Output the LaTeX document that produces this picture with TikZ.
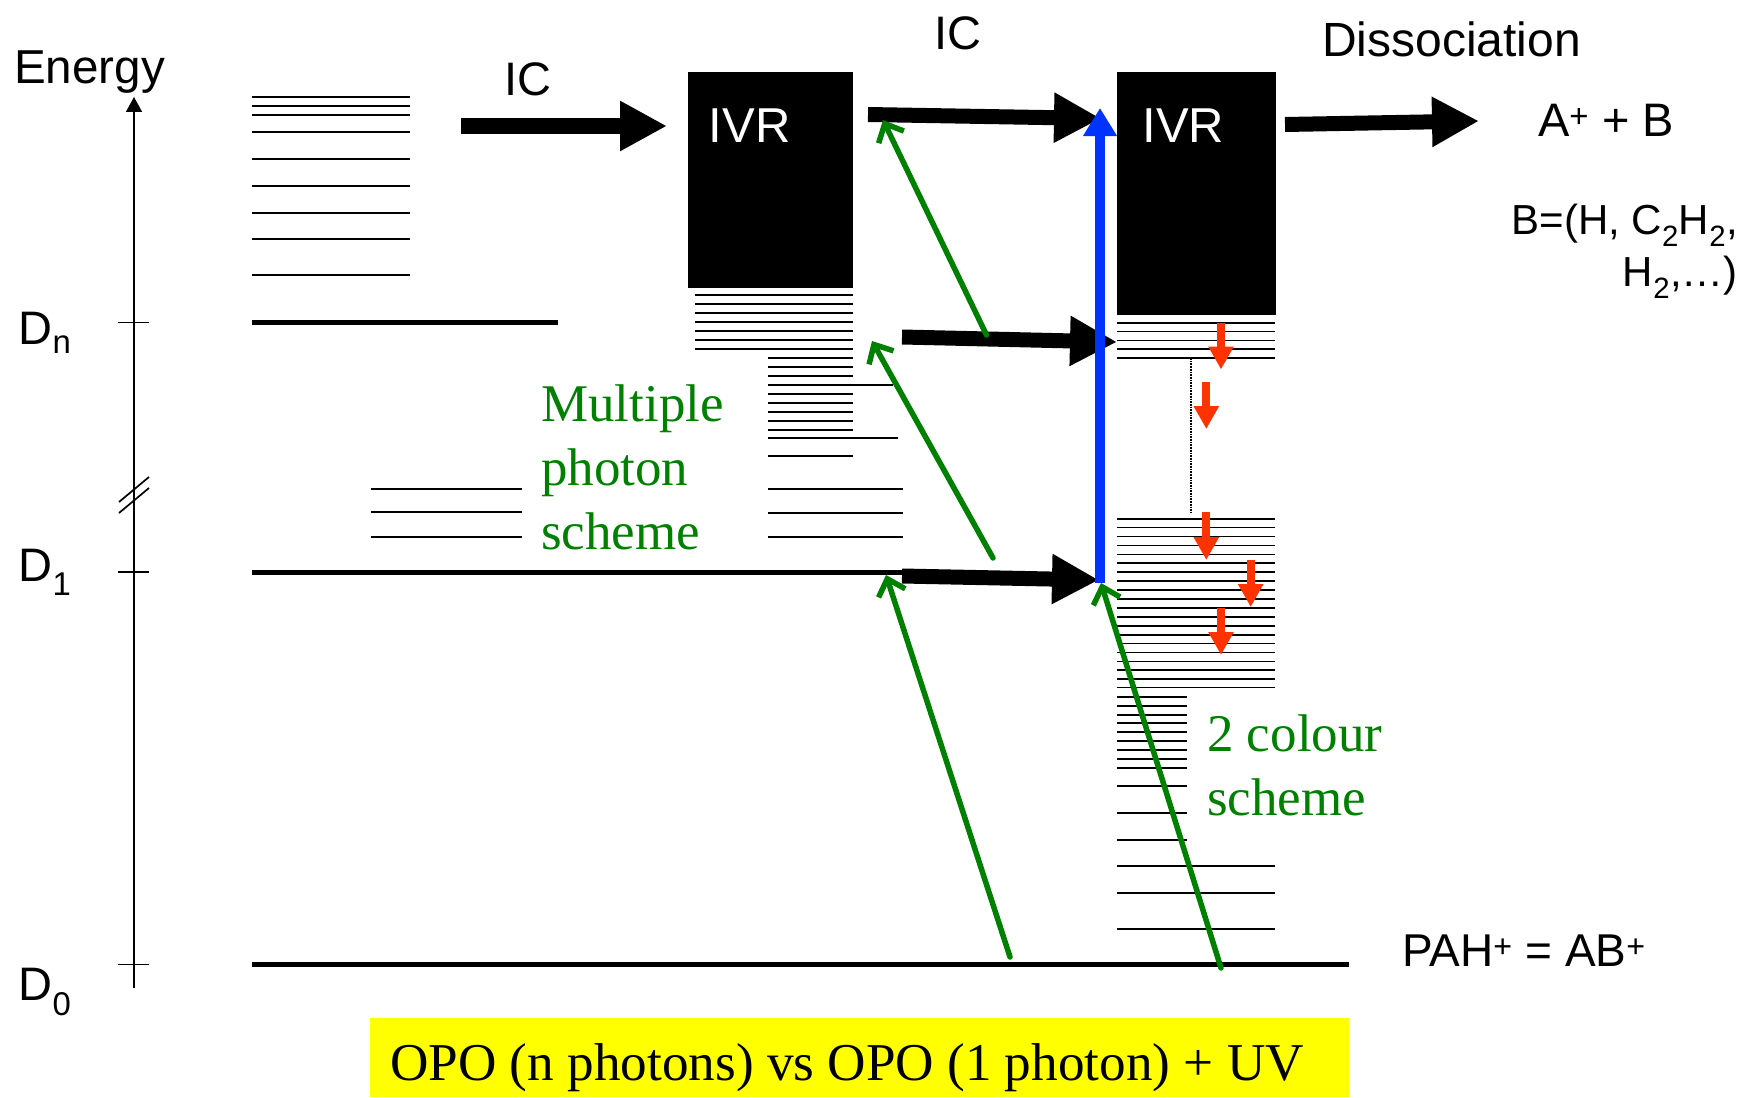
\documentclass[tikz,border=0pt]{standalone}
\usepackage{fontspec}
\setmainfont{Liberation Serif}
\setsansfont{Liberation Sans}
\usetikzlibrary{arrows.meta, calc}
\definecolor{photongreen}{RGB}{0,128,0}
\definecolor{relaxred}{RGB}{255,51,0}
\definecolor{pumpblue}{RGB}{0,51,255}
\definecolor{boxyellow}{RGB}{255,255,0}

\begin{document}
\begin{tikzpicture}[x=1pt,y=-1pt,
    lvl/.style={draw,line width=1.7pt},
    thick lvl/.style={draw,line width=5pt},
    ivr/.style={fill=black,inner sep=0},
    ivr label/.style={text=white,font=\fontsize{49}{50}\sffamily,inner sep=0},
    lab/.style={font=\fontsize{47}{50}\sffamily,inner sep=0},
    scheme/.style={font=\fontsize{53}{64}\selectfont,text=photongreen,align=left,anchor=north west,inner sep=0},
    flow/.style={line width=15pt,-{Triangle[length=47pt,width=47pt]}},
    green arrow/.style={draw=photongreen,line width=5.5pt,line cap=round,-{Straight Barb[length=15pt,width=28pt,line width=5.5pt]}},
    red arrow/.style={draw=relaxred,line width=8pt,-{Triangle[length=23pt,width=24pt]}}]

    \useasboundingbox (0,0) rectangle (1744,1097);

    % energy axis
    \coordinate (axisbottom) at (134,988);
    \coordinate (axistop) at (134,97);
    \draw[line width=1.7pt,-{Triangle[length=15pt,width=16pt]}] (axisbottom) -- (axistop);
    \draw[line width=1.7pt] (119,502) -- (149,477);
    \draw[line width=1.7pt] (119,513) -- (149,488);
    \foreach \y in {322.5,572,964.5}
        \draw[line width=1.2pt] (118,\y) -- (149,\y);

    \node[lab,anchor=west,font=\fontsize{47.6}{50}\sffamily] (energy) at (14,72.5) {Energy};
    \node[lab] (dn) at (45,333) {D\textsubscript{n}};
    \node[lab] (done) at (45,572) {D\textsubscript{1}};
    \node[lab] (dzero) at (45,992) {D\textsubscript{0}};

    % levels, left ladders
    \foreach \y in {96.7,105.7,114.7,132.3,159,185.7,212.7,239.3,275}
        \draw[lvl] (252,\y) -- (410,\y);
    \draw[thick lvl] (252,322.5) -- (558,322.5);
    \foreach \y in {489,512.3,536.7}
        \draw[lvl] (371,\y) -- (522,\y);
    \draw[thick lvl] (252,572) -- (903,572);
    \draw[thick lvl] (252,964.5) -- (1349,964.5);

    % levels under first IVR
    \foreach \y in {295.3,304.3,...,350}
        \draw[lvl] (695,\y) -- (853,\y);
    \foreach \y in {358.3,367.3,376.3,394,403,412,421,430,456.3}
        \draw[lvl] (768,\y) -- (853,\y);
    \draw[lvl] (768,385) -- (893,385);
    \draw[lvl] (768,438.3) -- (898,438.3);
    \foreach \y in {489,512.7,536.7}
        \draw[lvl] (768,\y) -- (903,\y);

    % levels under second IVR
    \foreach \y in {322.7,331.5,340.4,349.3,358.3}
        \draw[lvl] (1117,\y) -- (1275,\y);
    \draw[line width=1.7pt,densely dotted] (1191,358) -- (1191,513);
    \foreach \i in {0,...,18}
        \draw[lvl] (1117,518.7+\i*8.92) -- (1275,518.7+\i*8.92);
    \draw[lvl] (1117,687.5) -- (1275,687.5);
    \foreach \y in {697,706,715,723.3,732.3,741.3,750.3,759,768,786.3,813,839.7}
        \draw[lvl] (1117,\y) -- (1187,\y);
    \foreach \y in {866.3,893.3,929}
        \draw[lvl] (1117,\y) -- (1275,\y);

    \node[ivr,minimum width=165pt,minimum height=216pt] (ivra) at (770.5,180) {};
    \node[ivr,minimum width=159.5pt,minimum height=243pt] (ivrb) at (1196.3,193.5) {};
    \node[ivr label] (ivratext) at (749.6,126) {IVR};
    \node[ivr label] (ivrbtext) at (1183.5,126) {IVR};

    % internal conversion
    \coordinate (icastart) at (461,126);
    \coordinate (icaend) at (667,126);
    \coordinate (icbstart) at (868,114.5);
    \coordinate (icbend) at (1101,118.5);
    \coordinate (iccstart) at (902,337);
    \coordinate (iccend) at (1117,342);
    \coordinate (icdstart) at (902,576);
    \coordinate (icdend) at (1099,580);
    \coordinate (dissstart) at (1285,124.5);
    \coordinate (dissend) at (1479,121);
    \draw[flow] (icastart) -- (icaend);
    \draw[flow] (icbstart) -- (icbend);
    \draw[flow] (iccstart) -- (iccend);
    \draw[flow] (icdstart) -- (icdend);
    \draw[flow] (dissstart) -- (dissend);

    % photons
    \coordinate (uvstart) at (1100,583);
    \coordinate (uvend) at (1100,108);
    \draw[draw=pumpblue,line width=9.5pt,-{Triangle[length=28pt,width=32pt]}] (uvstart) -- (uvend);
    \draw[green arrow] (1010,957) -- (886,575);
    \draw[green arrow] (1221,968) -- (1101,583);
    \draw[green arrow] (993,558) -- (872,341);
    \draw[green arrow] (986.5,335) -- (883,120);

    % relaxation
    \foreach \x/\a/\b in {1221/323/369.5,1206.3/382/429,1206.3/512.3/560,1250.7/560.3/607,1221/607.7/655}
        \draw[red arrow] (\x,\a) -- (\x,\b);

    \node[lab] (ica) at (528,79) {IC};
    \node[lab] (icb) at (957.6,33) {IC};
    \node[lab,font=\fontsize{48}{50}\sffamily] (diss) at (1451.5,39) {Dissociation};
    \node[lab] (products) at (1606,120) {A\textsuperscript{+} + B};
    \node[font=\fontsize{42}{52}\sffamily,align=right,anchor=north east,inner sep=0] (channels) at (1738,204) {B=(H, C\textsubscript{2}H\textsubscript{2},\\H\textsubscript{2},\dots)};
    \node[lab,font=\fontsize{46}{50}\sffamily] (pah) at (1524,951) {PAH\textsuperscript{+} = AB\textsuperscript{+}};
    \node[scheme] (multi) at (541,385) {Multiple\\photon\\scheme};
    \node[scheme] (twocol) at (1207,714.5) {2 colour\\scheme};

    \fill[boxyellow] (370,1018) rectangle (1349,1097);
    \node[font=\fontsize{53.2}{56}\selectfont,anchor=west,inner sep=0] (compare) at (390,1068) {OPO (n photons) vs OPO (1 photon) + UV};
\end{tikzpicture}
\end{document}
